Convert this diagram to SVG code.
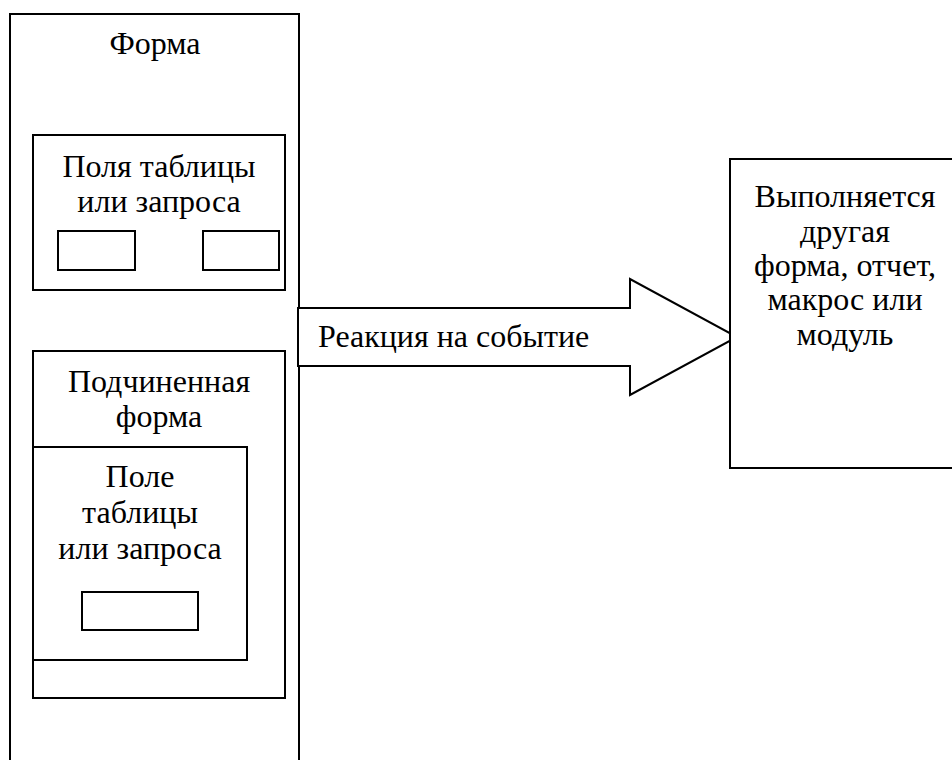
<svg xmlns="http://www.w3.org/2000/svg" width="952" height="760" viewBox="0 0 952 760">
<style>
.box{fill:#fff;stroke:#000;stroke-width:2}
.t{font-family:'Liberation Serif','Times New Roman',serif;font-size:32px;fill:#000}
.c{text-anchor:middle}
</style>
<rect x="0" y="0" width="952" height="760" fill="#fff"/>
<g id="form">
<rect class="box" x="10" y="14" width="289" height="760"/>
<text class="t c" x="155" y="54">Форма</text>
</g>
<g id="fields">
<rect class="box" x="33" y="135" width="252" height="155"/>
<text class="t c" x="159" y="177">Поля таблицы</text>
<text class="t c" x="159" y="212">или запроса</text>
<rect class="box" x="58" y="231" width="77" height="39"/>
<rect class="box" x="203" y="231" width="76" height="39"/>
</g>
<g id="subform">
<rect class="box" x="33" y="351" width="252" height="347"/>
<text class="t c" x="159" y="392">Подчиненная</text>
<text class="t c" x="159" y="427">форма</text>
</g>
<g id="subfield">
<rect class="box" x="33" y="447" width="214" height="213"/>
<text class="t c" x="140" y="487">Поле</text>
<text class="t c" x="140" y="523">таблицы</text>
<text class="t c" x="140" y="559">или запроса</text>
<rect class="box" x="82" y="592" width="116" height="38"/>
</g>
<g id="connectors">
<polygon class="box" points="298,308 630,308 630,279 737,337 630,395 630,366 298,366"/>
<text class="t" x="318" y="347">Реакция на событие</text>
</g>
<g id="target">
<rect class="box" x="730" y="159" width="240" height="309"/>
<text class="t c" x="845" y="207">Выполняется</text>
<text class="t c" x="845" y="242">другая</text>
<text class="t c" x="845" y="276">форма, отчет,</text>
<text class="t c" x="845" y="310">макрос или</text>
<text class="t c" x="845" y="345">модуль</text>
</g>
</svg>
